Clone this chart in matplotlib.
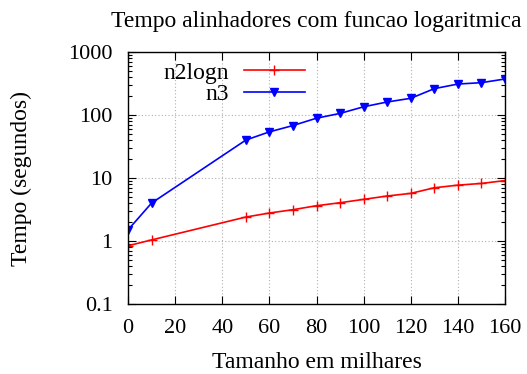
import matplotlib
matplotlib.use("Agg")
import matplotlib.pyplot as plt
from matplotlib.ticker import FixedLocator, FixedFormatter, LogLocator, NullFormatter

plt.rcParams['font.family'] = ['Liberation Serif', 'DejaVu Serif']

x = [0, 10, 50, 60, 70, 80, 90, 100, 110, 120, 130, 140, 150, 160]
n2logn = [0.84, 1.04, 2.4, 2.78, 3.14, 3.63, 4.05, 4.58, 5.18, 5.7, 7.0, 7.7, 8.2, 9.1]
n3 = [1.5, 4.0, 40, 54, 68, 89, 106, 135, 161, 184, 262, 310, 326, 373]
xticks = [0, 20, 40, 60, 80, 100, 120, 140, 160]
yticks = [0.1, 1, 10, 100, 1000]
ytick_labels = ["0.1", "1", "10", "100", "1000"]

fig = plt.figure(figsize=(5.27, 3.74), dpi=100)
ax = fig.add_axes([128/527, 1 - 304/374, (505-128)/527, (304-52)/374])

ax.plot(x, n2logn, color='#ff0000', lw=1.2, marker='+', ms=7, mew=1.0, label='n2logn')
ax.plot(x, n3, color='#0000ff', lw=1.2, marker='v', ms=6, label='n3')

ax.set_yscale('log')
ax.set_xlim(0, 160)
ax.set_ylim(0.1, 1000)
ax.xaxis.set_major_locator(FixedLocator(xticks))
ax.yaxis.set_major_locator(FixedLocator(yticks))
ax.yaxis.set_major_formatter(FixedFormatter(ytick_labels))
ax.yaxis.set_minor_locator(LogLocator(base=10, subs=range(2, 10)))
ax.yaxis.set_minor_formatter(NullFormatter())

ax.tick_params(which='both', direction='in', top=True, right=True, labelsize=16)
ax.tick_params(axis='y', pad=11)
ax.tick_params(axis='x', pad=11)
ax.tick_params(which='major', length=6, width=0.8)
ax.tick_params(which='minor', length=3, width=0.8)
ax.grid(True, which='major', color='#b0b0b0', linestyle=(0, (1, 2)), lw=0.8)

for s in ax.spines.values():
    s.set_linewidth(1.0)

ax.set_title('Tempo alinhadores com funcao logaritmica', fontsize=17, pad=18)
ax.set_xlabel('Tamanho em milhares', fontsize=17, labelpad=10)
ax.set_ylabel('Tempo (segundos)', fontsize=17, labelpad=26)

leg = ax.legend(loc='upper right', bbox_to_anchor=((305-128)/377, 0.96), markerfirst=False,
                frameon=False, fontsize=17, handlelength=2.6, numpoints=1, labelspacing=0.0,
                borderaxespad=0, borderpad=0, handletextpad=0.64)
for t in leg.get_texts():
    t.set_ha('right')

fig.savefig('out.png', dpi=100)
